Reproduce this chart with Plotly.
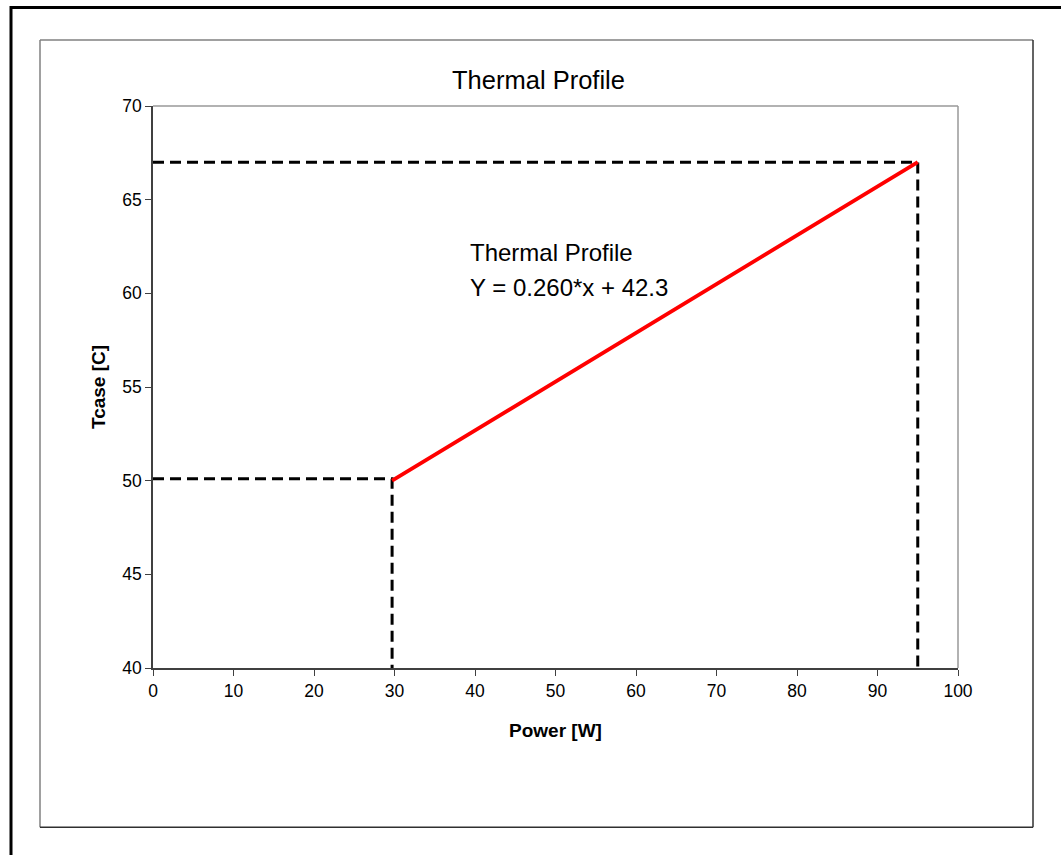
import plotly.graph_objects as go

# Data
profile_x = [29.7, 45.0, 50.0, 60.0, 70.0, 80.0, 82.5, 85.0, 95.0]
profile_y = [50.0, 54.0, 55.3, 57.9, 60.5, 63.1, 63.8, 64.4, 67.0]

# Dashed guide lines (min / max points)
guide_min_x = [0, 29.7, 29.7]
guide_min_y = [50.1, 50.1, 40]
guide_max_x = [0, 95.0, 95.0]
guide_max_y = [67.0, 67.0, 40]

x_ticks = [0, 10, 20, 30, 40, 50, 60, 70, 80, 90, 100]
y_ticks = [40, 45, 50, 55, 60, 65, 70]

title_text = "Thermal Profile"
annot_line1 = "Thermal Profile"
annot_line2 = "Y = 0.260*x + 42.3"
x_title = "Power [W]"
y_title = "Tcase [C]"

FONT = "Liberation Sans, Arial, sans-serif"
DASH = "11px,6px"

fig = go.Figure()
fig.add_trace(go.Scatter(x=guide_min_x, y=guide_min_y, mode="lines",
                         line=dict(color="black", width=3, dash=DASH),
                         hoverinfo="skip", showlegend=False))
fig.add_trace(go.Scatter(x=guide_max_x, y=guide_max_y, mode="lines",
                         line=dict(color="black", width=3, dash=DASH),
                         hoverinfo="skip", showlegend=False))
fig.add_trace(go.Scatter(x=profile_x, y=profile_y, mode="lines",
                         line=dict(color="#ff0000", width=3.8),
                         name="Thermal Profile", showlegend=False))

W, H = 1061, 855
L, R, T, B = 153, 958, 106, 668.5
pw, ph = R - L, B - T

def px(x):
    return (x - L) / pw

def py(y):
    return (B - y) / ph

shapes = []
# outer black frame (left & top visible)
shapes.append(dict(type="rect", xref="paper", yref="paper",
                   x0=px(11), x1=px(1070), y0=py(870), y1=py(7.5),
                   line=dict(color="black", width=3), layer="below"))
# chart area border
shapes.append(dict(type="line", xref="paper", yref="paper", x0=px(40), x1=px(1033), y0=py(40), y1=py(40),
                   line=dict(color="#808080", width=1.5)))
shapes.append(dict(type="line", xref="paper", yref="paper", x0=px(40), x1=px(40), y0=py(40), y1=py(828),
                   line=dict(color="#808080", width=1.5)))
shapes.append(dict(type="line", xref="paper", yref="paper", x0=px(1033), x1=px(1033), y0=py(40), y1=py(828),
                   line=dict(color="#303030", width=1.5)))
shapes.append(dict(type="line", xref="paper", yref="paper", x0=px(40), x1=px(1033), y0=py(828), y1=py(828),
                   line=dict(color="#303030", width=1.5)))
# plot area top/right border (gray)
shapes.append(dict(type="line", xref="paper", yref="paper", x0=0, x1=1, y0=1, y1=1,
                   line=dict(color="#999999", width=1.5)))
shapes.append(dict(type="line", xref="paper", yref="paper", x0=1, x1=1, y0=0, y1=1,
                   line=dict(color="#999999", width=1.5)))

fig.update_layout(
    width=W, height=H,
    margin=dict(l=L, r=W - R, t=T, b=H - B, pad=0),
    paper_bgcolor="white", plot_bgcolor="white",
    font=dict(family=FONT, color="black"),
    title=dict(text=title_text, x=538.5 / W, xanchor="center",
               y=1 - 80 / H, yanchor="middle", yref="container",
               font=dict(size=25.5, family=FONT, color="black")),
    shapes=shapes,
    annotations=[
        dict(text=annot_line1, xref="x", yref="y", x=39.1, y=62.2,
             xanchor="left", yanchor="middle", showarrow=False,
             font=dict(size=24, family=FONT, color="black")),
        dict(text=annot_line2, xref="x", yref="y", x=39.1, y=60.3,
             xanchor="left", yanchor="middle", showarrow=False,
             font=dict(size=24, family=FONT, color="black")),
    ],
    xaxis=dict(range=[0, 100], tickvals=x_ticks, ticks="outside", ticklen=6,
               tickcolor="#404040", showgrid=False, zeroline=False,
               showline=True, linecolor="#404040", linewidth=1.5,
               tickfont=dict(size=17.5, family=FONT, color="black"),
               title=dict(text="<b>" + x_title + "</b>", standoff=24,
                          font=dict(size=19, family=FONT, color="black"))),
    yaxis=dict(range=[40, 70], tickvals=y_ticks, ticks="outside", ticklen=6,
               tickcolor="#404040", showgrid=False, zeroline=False,
               showline=True, linecolor="#404040", linewidth=1.5,
               tickfont=dict(size=17.5, family=FONT, color="black"),
               title=dict(text="<b>" + y_title + "</b>", standoff=12,
                          font=dict(size=19, family=FONT, color="black"))),
)

fig.write_html("out.html", config={"displayModeBar": False},
               post_script="document.body.style.margin='0px';")
